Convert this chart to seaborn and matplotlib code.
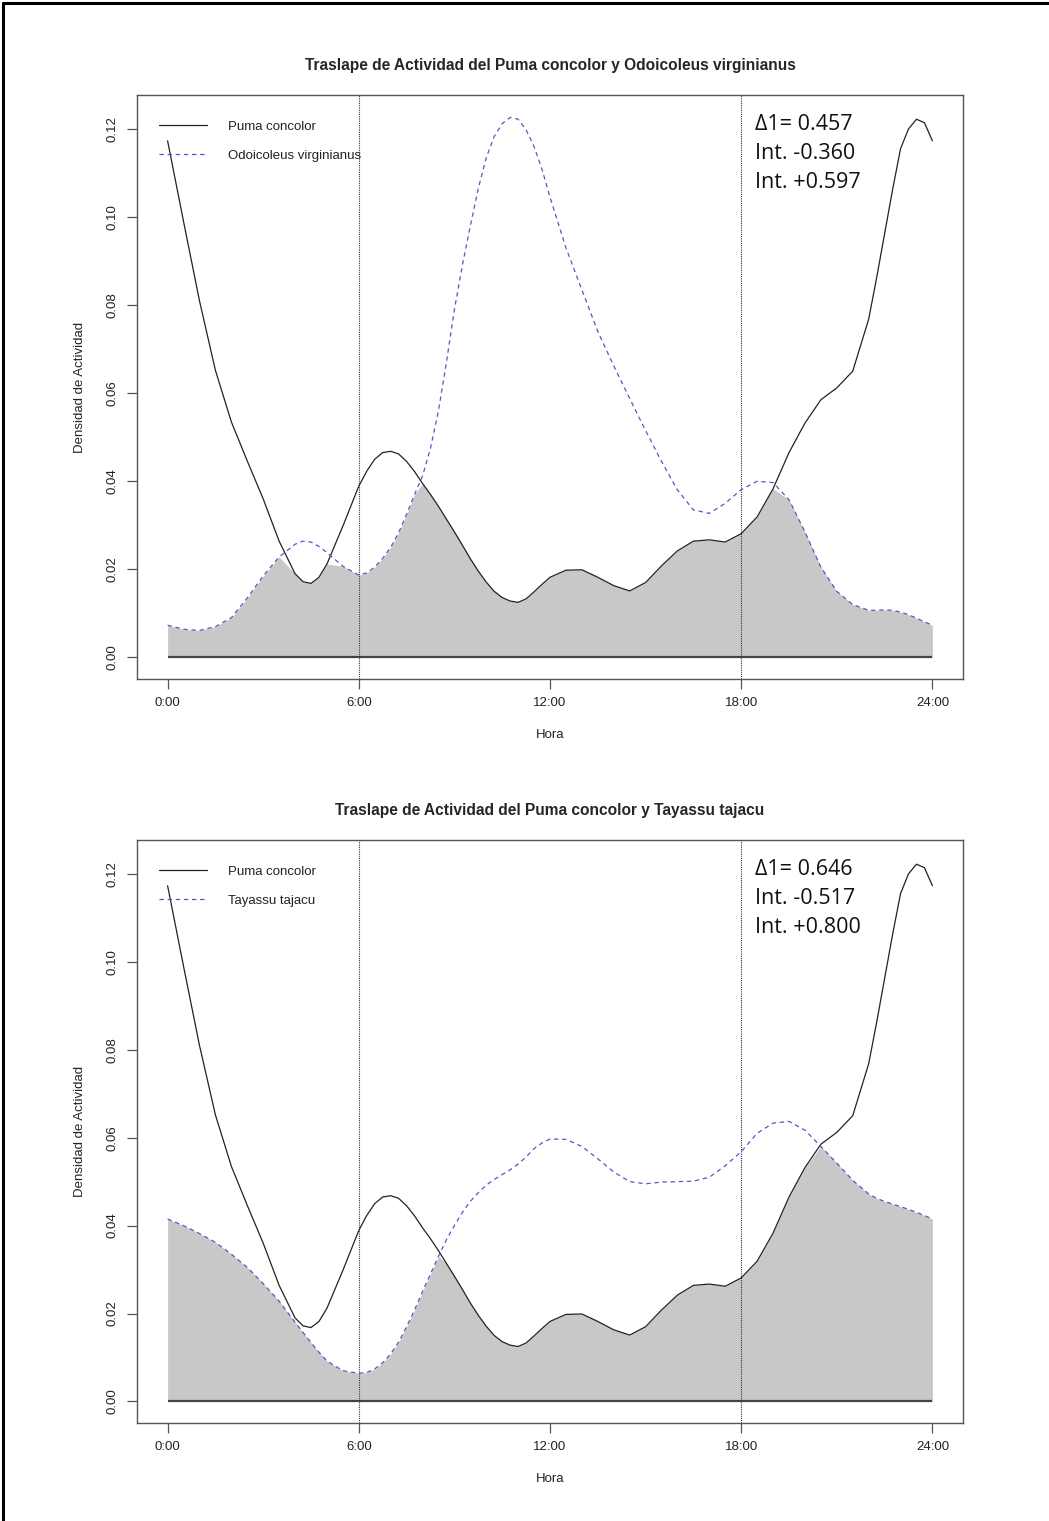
import matplotlib

matplotlib.use("Agg")
import matplotlib.pyplot as plt
from matplotlib.lines import Line2D
import numpy as np
import seaborn as sns

# --- datos (densidad de actividad por hora) ---
hours = [0.0, 0.5, 1.0, 1.5, 2.0, 2.5, 3.0, 3.5, 4.0, 4.25, 4.5, 4.75, 5.0,
         5.5, 6.0, 6.25, 6.5, 6.75, 7.0, 7.25, 7.5, 7.75, 8.0, 8.25, 8.5, 8.75,
         9.0, 9.25, 9.5, 9.75, 10.0, 10.25, 10.5, 10.75, 11.0, 11.25, 11.5,
         11.75, 12.0, 12.5, 13.0, 13.5, 14.0, 14.5, 15.0, 15.5, 16.0, 16.5,
         17.0, 17.5, 18.0, 18.5, 19.0, 19.5, 20.0, 20.5, 21.0, 21.5, 22.0,
         22.25, 22.5, 22.75, 23.0, 23.25, 23.5, 23.75, 24.0]

puma = [0.1173, 0.0990, 0.0810, 0.0652, 0.0535, 0.0446, 0.0360, 0.0264,
        0.0190, 0.0172, 0.0168, 0.0182, 0.0212, 0.0298, 0.0389, 0.0423,
        0.0450, 0.0465, 0.0468, 0.0462, 0.0445, 0.0422, 0.0395, 0.0370,
        0.0343, 0.0314, 0.0285, 0.0255, 0.0224, 0.0196, 0.0171, 0.0150,
        0.0136, 0.0128, 0.0125, 0.0133, 0.0149, 0.0166, 0.0182, 0.0198,
        0.0199, 0.0182, 0.0163, 0.0151, 0.0170, 0.0208, 0.0242, 0.0264,
        0.0267, 0.0262, 0.0281, 0.0319, 0.0383, 0.0465, 0.0532, 0.0585,
        0.0612, 0.0650, 0.0768, 0.0862, 0.0962, 0.1062, 0.1155, 0.1200,
        0.1222, 0.1214, 0.1173]

odocoileus = [0.0073, 0.0064, 0.0061, 0.0070, 0.0090, 0.0135, 0.0185, 0.0228,
              0.0257, 0.0264, 0.0262, 0.0252, 0.0238, 0.0207, 0.0187, 0.0192,
              0.0205, 0.0225, 0.0250, 0.0283, 0.0325, 0.0370, 0.0412, 0.0475,
              0.0560, 0.0670, 0.0790, 0.0890, 0.0980, 0.1065, 0.1135, 0.1183,
              0.1212, 0.1226, 0.1222, 0.1198, 0.1160, 0.1108, 0.1045, 0.0930,
              0.0835, 0.0740, 0.0662, 0.0588, 0.0515, 0.0445, 0.0380, 0.0335,
              0.0327, 0.0350, 0.0381, 0.0400, 0.0397, 0.0358, 0.0285, 0.0205,
              0.0150, 0.0120, 0.0107, 0.0107, 0.0108, 0.0107, 0.0103, 0.0097,
              0.0089, 0.0081, 0.0073]

tayassu = [0.0415, 0.0400, 0.0382, 0.0362, 0.0335, 0.0305, 0.0268, 0.0228,
           0.0180, 0.0157, 0.0134, 0.0112, 0.0092, 0.0070, 0.0064, 0.0066,
           0.0074, 0.0088, 0.0108, 0.0135, 0.0170, 0.0208, 0.0250, 0.0290,
           0.0330, 0.0368, 0.0400, 0.0430, 0.0455, 0.0475, 0.0492, 0.0505,
           0.0516, 0.0527, 0.0540, 0.0556, 0.0575, 0.0588, 0.0597, 0.0596,
           0.0580, 0.0552, 0.0522, 0.0500, 0.0495, 0.0499, 0.0500, 0.0501,
           0.0510, 0.0536, 0.0568, 0.0610, 0.0633, 0.0637, 0.0617, 0.0580,
           0.0542, 0.0503, 0.0472, 0.0462, 0.0455, 0.0449, 0.0443, 0.0437,
           0.0430, 0.0423, 0.0415]

x_ticks = [0, 6, 12, 18, 24]
x_labels = ["0:00", "6:00", "12:00", "18:00", "24:00"]
y_ticks = [0.00, 0.02, 0.04, 0.06, 0.08, 0.10, 0.12]
y_labels = ["0.00", "0.02", "0.04", "0.06", "0.08", "0.10", "0.12"]
sunrise, sunset = 6, 18

panels = [
    ("Odoicoleus virginianus", odocoileus,
     ["\u03941= 0.457", "Int. -0.360", "Int. +0.597"]),
    ("Tayassu tajacu", tayassu,
     ["\u03941= 0.646", "Int. -0.517", "Int. +0.800"]),
]

sns.set_theme(style="white")
plt.rcParams["font.family"] = ["Liberation Sans", "DejaVu Sans"]

BLUE = "#4a5cc6"
FRAME = "#555555"

fig = plt.figure(figsize=(10.49, 15.21), dpi=100)
W, H = 1049, 1521
boxes = [(137, 95, 963, 679), (137, 840, 963, 1423)]

for (name, other, stats), (x0, y0, x1, y1) in zip(panels, boxes):
    ax = fig.add_axes([x0 / W, 1 - y1 / H, (x1 - x0) / W, (y1 - y0) / H])
    overlap = np.minimum(puma, other)
    ax.fill_between(hours, 0, overlap, color="#c8c8c8", lw=0, zorder=1)
    ax.hlines(0, hours[0], hours[-1], color="#444444", lw=1.6, zorder=2)
    sns.lineplot(x=hours, y=puma, ax=ax, color="#222222", lw=0.9,
                 label="Puma concolor", zorder=3)
    sns.lineplot(x=hours, y=other, ax=ax, color=BLUE, lw=0.9,
                 linestyle=(0, (3.5, 3)), label=name, zorder=3)
    for t in (sunrise, sunset):
        ax.axvline(t, color="#333333", ls=(0, (1, 1)), lw=0.8, zorder=2)

    ax.set_xlim(-0.96, 24.96)
    ax.set_ylim(-0.0049, 0.1277)
    ax.set_xticks(x_ticks)
    ax.set_xticklabels(x_labels, fontsize=9.5, color="#222222")
    ax.set_yticks(y_ticks)
    ax.set_yticklabels(y_labels, fontsize=9.5, color="#222222",
                       rotation=90, va="center")
    ax.tick_params(direction="out", length=7, width=0.9, color=FRAME,
                   bottom=True, left=True, pad=6)
    for sp in ax.spines.values():
        sp.set_color(FRAME)
        sp.set_linewidth(1.0)

    ax.set_xlabel("Hora", fontsize=9.5, color="#222222")
    ax.set_ylabel("Densidad de Actividad", fontsize=9.5, color="#222222")
    ax.xaxis.set_label_coords(0.5, -0.085)
    ax.yaxis.set_label_coords(-0.062, 0.5)
    ax.set_title(f"Traslape de Actividad del Puma concolor y {name}",
                 fontsize=11.2, fontweight="bold", pad=18)

    leg = ax.legend(loc="upper left", bbox_to_anchor=(0.027, 0.956),
                    frameon=False, fontsize=9.5, handlelength=3.6,
                    handletextpad=1.6, labelspacing=1.25,
                    borderpad=0, borderaxespad=0)
    for txt in leg.get_texts():
        txt.set_color("#222222")

    for i, s in enumerate(stats):
        ax.text(0.748, 0.950 - i * 0.0497, s, transform=ax.transAxes,
                fontsize=15.5, va="center", ha="left", color="#111111",
                family=["Open Sans", "DejaVu Sans"])

# marco negro superior e izquierdo
fig.add_artist(Line2D([3 / W, 1], [1 - 3 / H, 1 - 3 / H], color="black",
                      lw=2.2, transform=fig.transFigure))
fig.add_artist(Line2D([3 / W, 3 / W], [0, 1 - 3 / H], color="black",
                      lw=2.2, transform=fig.transFigure))

fig.savefig("out.png", dpi=100)
